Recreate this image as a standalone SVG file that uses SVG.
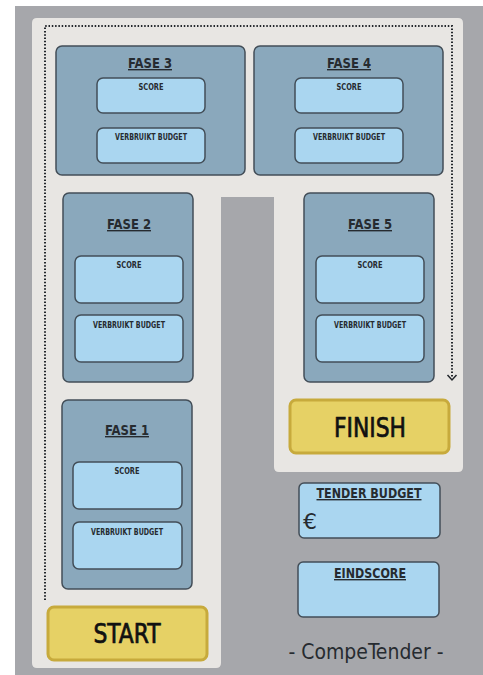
<svg xmlns="http://www.w3.org/2000/svg" width="483" height="675" viewBox="0 0 483 675">
<style>
.t{font-family:"Liberation Sans Narrow","DejaVu Sans Condensed","Liberation Sans",sans-serif;fill:#262b30;text-anchor:middle}
.fase{fill:#8aa8bc;stroke:#434e58;stroke-width:1.5}
.inner{fill:#aad6f0;stroke:#434e58;stroke-width:1.5}
.btn{fill:#e6d165;stroke:#c7aa3c;stroke-width:3}
.h{font-size:14px;font-weight:bold;text-decoration:underline}
.s{font-size:8px;font-weight:bold}
.b{font-size:27px;fill:#111;stroke:#111;stroke-width:0.7}
</style>
<rect x="15" y="6" width="468" height="669" fill="#a6a7ab"/>
<path d="M37,18 H458 Q463,18 463,23 V467 Q463,472 458,472 H279 Q274,472 274,467 V197 H221 V663 Q221,668 216,668 H37 Q32,668 32,663 V23 Q32,18 37,18 Z" fill="#e8e6e3"/>
<g id="connectors">
<path d="M45,600 V26 H452 V378" fill="none" stroke="#22262b" stroke-width="2" stroke-dasharray="1.5 1.8"/>
<path d="M447.5,375 L452,380 L456.5,375" fill="none" stroke="#22262b" stroke-width="1.5"/>
</g>
<g id="fase3">
<rect class="fase" x="56" y="46" width="189" height="129" rx="6"/>
<text class="t h" x="150" y="68" textLength="44" lengthAdjust="spacingAndGlyphs">FASE 3</text>
<rect class="inner" x="97" y="78" width="108" height="35" rx="6"/>
<text class="t s" x="151" y="90" textLength="25" lengthAdjust="spacingAndGlyphs">SCORE</text>
<rect class="inner" x="97" y="128" width="108" height="35" rx="6"/>
<text class="t s" x="151" y="140" textLength="72" lengthAdjust="spacingAndGlyphs">VERBRUIKT BUDGET</text>
</g>
<g id="fase4">
<rect class="fase" x="254" y="46" width="189" height="129" rx="6"/>
<text class="t h" x="349" y="68" textLength="44" lengthAdjust="spacingAndGlyphs">FASE 4</text>
<rect class="inner" x="295" y="78" width="108" height="35" rx="6"/>
<text class="t s" x="349" y="90" textLength="25" lengthAdjust="spacingAndGlyphs">SCORE</text>
<rect class="inner" x="295" y="128" width="108" height="35" rx="6"/>
<text class="t s" x="349" y="140" textLength="72" lengthAdjust="spacingAndGlyphs">VERBRUIKT BUDGET</text>
</g>
<g id="fase2">
<rect class="fase" x="63" y="193" width="130" height="189" rx="6"/>
<text class="t h" x="129" y="229" textLength="44" lengthAdjust="spacingAndGlyphs">FASE 2</text>
<rect class="inner" x="75" y="256" width="108" height="47" rx="6"/>
<text class="t s" x="129" y="268" textLength="25" lengthAdjust="spacingAndGlyphs">SCORE</text>
<rect class="inner" x="75" y="315" width="108" height="47" rx="6"/>
<text class="t s" x="129" y="328" textLength="72" lengthAdjust="spacingAndGlyphs">VERBRUIKT BUDGET</text>
</g>
<g id="fase5">
<rect class="fase" x="304" y="193" width="130" height="189" rx="6"/>
<text class="t h" x="370" y="229" textLength="44" lengthAdjust="spacingAndGlyphs">FASE 5</text>
<rect class="inner" x="316" y="256" width="108" height="47" rx="6"/>
<text class="t s" x="370" y="268" textLength="25" lengthAdjust="spacingAndGlyphs">SCORE</text>
<rect class="inner" x="316" y="315" width="108" height="47" rx="6"/>
<text class="t s" x="370" y="328" textLength="72" lengthAdjust="spacingAndGlyphs">VERBRUIKT BUDGET</text>
</g>
<g id="fase1">
<rect class="fase" x="62" y="400" width="130" height="189" rx="6"/>
<text class="t h" x="127" y="435" textLength="44" lengthAdjust="spacingAndGlyphs">FASE 1</text>
<rect class="inner" x="73" y="462" width="109" height="47" rx="6"/>
<text class="t s" x="127" y="474" textLength="25" lengthAdjust="spacingAndGlyphs">SCORE</text>
<rect class="inner" x="73" y="522" width="109" height="47" rx="6"/>
<text class="t s" x="127" y="535" textLength="72" lengthAdjust="spacingAndGlyphs">VERBRUIKT BUDGET</text>
</g>
<g id="start">
<rect class="btn" x="48" y="607" width="159" height="53" rx="6"/>
<text class="t b" x="127" y="643" textLength="67" lengthAdjust="spacingAndGlyphs">START</text>
</g>
<g id="finish">
<rect class="btn" x="290" y="400" width="159" height="53" rx="6"/>
<text class="t b" x="370" y="437" textLength="72" lengthAdjust="spacingAndGlyphs">FINISH</text>
</g>
<g id="tenderbudget">
<rect class="inner" x="299" y="483" width="141" height="55" rx="5"/>
<text class="t" x="369" y="498" font-size="14" font-weight="bold" text-decoration="underline" textLength="105" lengthAdjust="spacingAndGlyphs">TENDER BUDGET</text>
<text class="t" x="310" y="529" font-size="22" fill="#111" textLength="14" lengthAdjust="spacingAndGlyphs">€</text>
</g>
<g id="eindscore">
<rect class="inner" x="298" y="562" width="141" height="55" rx="5"/>
<text class="t" x="370" y="578" font-size="14" font-weight="bold" text-decoration="underline" textLength="72" lengthAdjust="spacingAndGlyphs">EINDSCORE</text>
</g>
<text class="t" x="366" y="659" font-size="21" fill="#111" textLength="155" lengthAdjust="spacingAndGlyphs">- CompeTender -</text>
</svg>
